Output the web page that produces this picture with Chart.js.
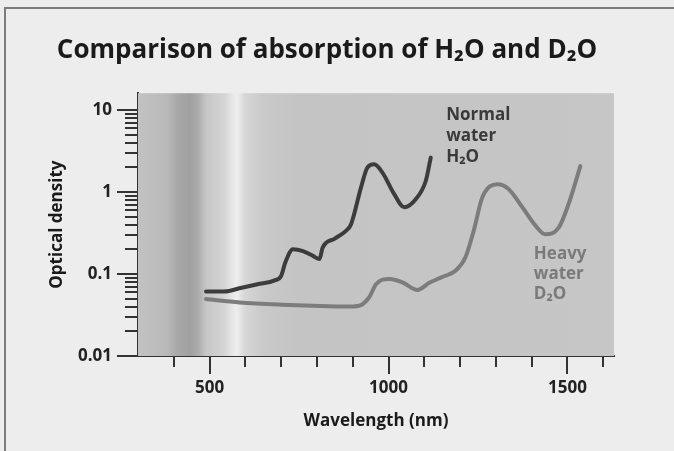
<!DOCTYPE html>
<html>
<head>
<meta charset="utf-8">
<script src="https://cdn.jsdelivr.net/npm/chart.js@4/dist/chart.umd.min.js"></script>
<style>
  body { margin: 0; background: #ededed; }
  .frame { position: absolute; left: 4px; top: 7px; width: 670px; height: 444px;
           border-top: 2px solid #7d7d7d; border-left: 2px solid #7d7d7d; }
  canvas { position: absolute; left: 0; top: 0; }
</style>
</head>
<body>
<div class="frame"></div>
<canvas id="chart1" width="674" height="451"></canvas>
<script>
// wavelength (nm) / optical density
var h2oWavelength = [490, 540, 590, 640, 680, 700, 712, 733, 761, 790, 807, 816, 850, 881, 895, 923, 941, 960, 983, 1016, 1044, 1076, 1104, 1118]
var h2oDensity = [0.061, 0.061, 0.068, 0.076, 0.083, 0.095, 0.14, 0.2, 0.19, 0.165, 0.152, 0.21, 0.27, 0.336, 0.40, 1.13, 1.98, 2.17, 1.72, 0.94, 0.65, 0.815, 1.36, 2.62]

var d2oWavelength = [490, 584, 723, 788, 881, 918, 946, 965, 1002, 1039, 1081, 1114, 1150, 1188, 1215, 1238, 1262, 1304, 1336, 1374, 1411, 1438, 1476, 1503, 1536]
var d2oDensity = [0.0495, 0.045, 0.042, 0.041, 0.040, 0.041, 0.052, 0.075, 0.087, 0.079, 0.064, 0.078, 0.092, 0.11, 0.16, 0.336, 0.855, 1.24, 1.08, 0.65, 0.386, 0.305, 0.37, 0.71, 2.07]

var xTicks = [400, 500, 600, 700, 800, 900, 1000, 1100, 1200, 1300, 1400, 1500, 1600]
var xTickLabels = ['500', '1000', '1500']
var yDecades = [0.01, 0.1, 1, 10]
var yTickLabels = ['0.01', '0.1', '1', '10']

var h2oLabel = ['Normal', 'water', 'H\u2082O']
var d2oLabel = ['Heavy', 'water', 'D\u2082O']

// grey backdrop with the visible-light band
var bandStops = [
  [300, '#c2c2c2'], [380, '#b9b9b9'], [410, '#a8a8a8'], [445, '#a0a0a0'], [470, '#adadad'],
  [490, '#c6c6c6'], [540, '#d4d4d4'], [575, '#eeeeee'], [600, '#d6d6d6'], [650, '#c9c9c9'],
  [750, '#c4c4c4'], [1630, '#c6c6c6']
]

var FONT = 'Open Sans'

const backdrop = {
  id: 'backdrop',
  beforeDatasetsDraw(chart) {
    const {ctx, chartArea: a, scales: {x}} = chart
    const g = ctx.createLinearGradient(a.left, 0, a.right, 0)
    bandStops.forEach(s => {
      const t = (x.getPixelForValue(s[0]) - a.left) / (a.right - a.left)
      g.addColorStop(Math.min(1, Math.max(0, t)), s[1])
    })
    ctx.save()
    ctx.fillStyle = g
    ctx.fillRect(a.left, a.top, a.right - a.left, a.bottom - a.top)
    ctx.restore()
  }
}

const tickMarks = {
  id: 'tickMarks',
  afterDraw(chart) {
    const {ctx, chartArea: a, scales: {x, y}} = chart
    ctx.save()
    ctx.strokeStyle = '#333'
    ctx.lineWidth = 2
    x.ticks.forEach(t => {
      const px = Math.round(x.getPixelForValue(t.value))
      const len = xTickLabels.includes(String(t.value)) ? 18 : 11
      ctx.beginPath(); ctx.moveTo(px, a.bottom); ctx.lineTo(px, a.bottom + len); ctx.stroke()
    })
    y.ticks.forEach(t => {
      const py = Math.round(y.getPixelForValue(t.value))
      const len = yDecades.some(d => Math.abs(d - t.value) < d * 1e-6) ? 21 : 13
      ctx.beginPath(); ctx.moveTo(a.left, py); ctx.lineTo(a.left - len, py); ctx.stroke()
    })
    ctx.restore()
  }
}

const curveLabels = {
  id: 'curveLabels',
  afterDatasetsDraw(chart) {
    const {ctx, scales: {x, y}} = chart
    ctx.save()
    ctx.font = 'bold 17px "' + FONT + '"'
    ctx.textAlign = 'left'
    ctx.textBaseline = 'middle'
    ctx.fillStyle = '#3a3a3a'
    var px = x.getPixelForValue(1161), py = y.getPixelForValue(8.6)
    h2oLabel.forEach((s, i) => ctx.fillText(s, px, py + i * 21))
    ctx.fillStyle = '#7a7a7a'
    px = x.getPixelForValue(1406); py = y.getPixelForValue(0.174)
    d2oLabel.forEach((s, i) => ctx.fillText(s, px, py + i * 20))
    ctx.restore()
  }
}

function toPoints(xs, ys) {
  return xs.map((v, i) => ({x: v, y: ys[i]}))
}

window.onload = () => {
  const ctx = document.getElementById('chart1').getContext('2d')
  window.myChart = new Chart(ctx, {
    type: 'line',
    data: {
      datasets: [{
        label: 'Normal water H2O',
        data: toPoints(h2oWavelength, h2oDensity),
        borderColor: '#3c3c3c',
        borderWidth: 4,
        borderCapStyle: 'round',
        cubicInterpolationMode: 'monotone',
        pointRadius: 0
      }, {
        label: 'Heavy water D2O',
        data: toPoints(d2oWavelength, d2oDensity),
        borderColor: '#7c7c7c',
        borderWidth: 4,
        borderCapStyle: 'round',
        cubicInterpolationMode: 'monotone',
        pointRadius: 0
      }]
    },
    options: {
      responsive: false,
      animation: false,
      devicePixelRatio: 1,
      layout: { padding: { left: 40, right: 60, top: 0, bottom: 16 } },
      plugins: {
        legend: { display: false },
        tooltip: { enabled: false },
        title: {
          display: true,
          text: 'Comparison of absorption of H\u2082O and D\u2082O',
          color: '#1a1a1a',
          font: { family: FONT, size: 26, weight: 'bold' },
          padding: { top: 35, bottom: 27 }
        }
      },
      scales: {
        x: {
          type: 'linear',
          min: 300,
          max: 1630,
          afterBuildTicks: s => { s.ticks = xTicks.map(v => ({value: v})) },
          afterFit: s => { s.height = 79 },
          grid: { display: false },
          border: { display: true, color: '#333', width: 2 },
          ticks: {
            autoSkip: false,
            maxRotation: 0,
            padding: 14,
            color: '#222',
            font: { family: FONT, size: 17, weight: 'bold' },
            callback: v => xTickLabels.includes(String(v)) ? String(v) : ''
          },
          title: {
            display: true,
            text: 'Wavelength (nm)',
            color: '#1a1a1a',
            font: { family: FONT, size: 17, weight: 'bold' },
            padding: { top: 0, bottom: 4 }
          }
        },
        y: {
          type: 'logarithmic',
          min: 0.01,
          max: 16,
          afterBuildTicks: s => {
            var ticks = []
            yDecades.forEach(d => {
              for (var m = 1; m <= 9; m++) {
                if (d === 10 && m > 1) break
                ticks.push({value: +(d * m).toPrecision(3)})
              }
            })
            s.ticks = ticks
          },
          afterFit: s => { s.width = 98 },
          grid: { display: false },
          border: { display: true, color: '#333', width: 2 },
          ticks: {
            autoSkip: false,
            padding: 18,
            color: '#222',
            font: { family: FONT, size: 17, weight: 'bold' },
            callback: v => {
              var i = yDecades.findIndex(d => Math.abs(d - v) < d * 1e-6)
              return i >= 0 ? yTickLabels[i] : ''
            }
          },
          title: {
            display: true,
            text: 'Optical density',
            color: '#1a1a1a',
            font: { family: FONT, size: 17, weight: 'bold' },
            padding: { top: 7, bottom: 0 }
          }
        }
      }
    },
    plugins: [backdrop, tickMarks, curveLabels]
  })
}
</script>
</body>
</html>
